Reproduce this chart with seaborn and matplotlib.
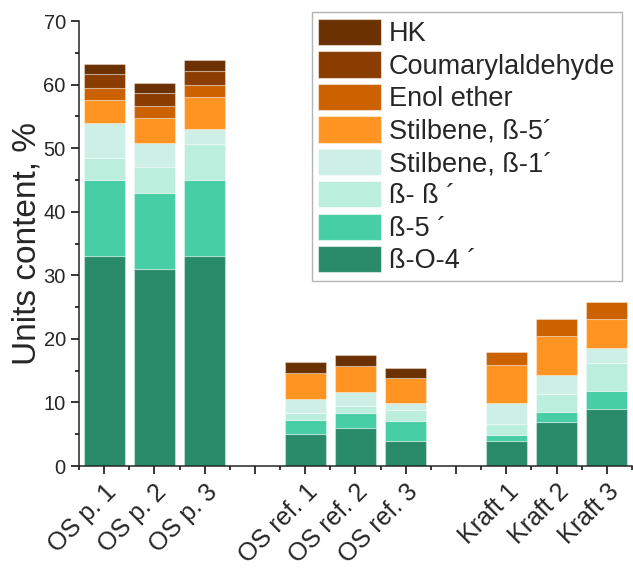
import numpy as np
import pandas as pd
import matplotlib
matplotlib.use("Agg")
import matplotlib.pyplot as plt
import matplotlib.transforms as mtransforms
from matplotlib.patches import Patch
from matplotlib.ticker import MultipleLocator
import seaborn as sns

# ---- data ----
samples = ["OS p. 1", "OS p. 2", "OS p. 3",
           "OS ref. 1", "OS ref. 2", "OS ref. 3",
           "Kraft 1", "Kraft 2", "Kraft 3"]
group_sizes = [3, 3, 3]

components = ["HK", "Coumarylaldehyde", "Enol ether", "Stilbene, ß-5´",
              "Stilbene, ß-1´", "ß- ß ´", "ß-5 ´", "ß-O-4 ´"]

bo4 = [33.0, 31.0, 33.0, 5.0, 6.0, 4.0, 4.0, 7.0, 9.0]
b5 = [12.0, 12.0, 12.0, 2.3, 2.3, 3.1, 0.9, 1.5, 2.8]
bb = [3.4, 4.1, 5.7, 1.1, 1.2, 1.7, 1.7, 2.9, 4.4]
stil_b1 = [5.6, 3.7, 2.3, 2.1, 2.1, 1.1, 3.3, 2.9, 2.4]
stil_b5 = [3.5, 3.9, 5.0, 4.1, 4.1, 3.9, 6.0, 6.2, 4.5]
enol = [2.0, 1.9, 2.0, 0.0, 0.0, 0.0, 2.0, 2.7, 2.7]
coum = [2.1, 2.0, 2.1, 0.0, 0.0, 0.0, 0.0, 0.0, 0.0]
hk = [1.6, 1.6, 1.8, 1.7, 1.7, 1.6, 0.0, 0.0, 0.0]

values = {
    "HK": hk, "Coumarylaldehyde": coum, "Enol ether": enol,
    "Stilbene, ß-5´": stil_b5, "Stilbene, ß-1´": stil_b1,
    "ß- ß ´": bb, "ß-5 ´": b5, "ß-O-4 ´": bo4,
}

colors = {
    "HK": "#6B3100", "Coumarylaldehyde": "#8B3D00", "Enol ether": "#CC6100",
    "Stilbene, ß-5´": "#FF9422", "Stilbene, ß-1´": "#CDEFE6",
    "ß- ß ´": "#BCEEDD", "ß-5 ´": "#48CEA5", "ß-O-4 ´": "#2A8B6B",
}

# positions with a gap slot between groups
positions = []
p = 0
for g in group_sizes:
    for _ in range(g):
        positions.append(p)
        p += 1
    p += 1
n_slots = positions[-1] + 1

rows = []
for comp in components:
    for pos, v in zip(positions, values[comp]):
        rows.append({"pos": pos, "comp": comp, "val": v})
df = pd.DataFrame(rows)

sns.set_style("ticks")
plt.rcParams["font.family"] = ["Liberation Sans", "DejaVu Sans"]
plt.rcParams["axes.linewidth"] = 1.1

fig = plt.figure(figsize=(6.33, 5.73), dpi=100)
ax = fig.add_axes([0.1248, 0.1867, 0.9984 - 0.1248, 0.9633 - 0.1867])

sns.histplot(data=df, x="pos", weights="val", hue="comp", hue_order=components,
             multiple="stack", discrete=True, shrink=0.82, palette=colors,
             alpha=1, edgecolor=(1, 1, 1, 0.35), linewidth=0.8,
             legend=False, ax=ax)

for patch in ax.patches:
    if patch.get_height() == 0:
        patch.set_linewidth(0)

ax.set_xlim(-0.5, n_slots - 0.5)
ax.set_ylim(0, 70)

labels_by_pos = {pos: s for pos, s in zip(positions, samples)}
ticks = list(range(n_slots))
ax.set_xticks(ticks)
ax.set_xticklabels([labels_by_pos.get(t, "") for t in ticks], rotation=45,
                   ha="right", va="top", rotation_mode="anchor", fontsize=18)
ax.set_xticks(np.arange(-0.5, n_slots, 1.0), minor=True)
offset = mtransforms.ScaledTranslation(7 / 72, -9 / 72, fig.dpi_scale_trans)
for lbl in ax.get_xticklabels():
    lbl.set_transform(lbl.get_transform() + offset)

ax.yaxis.set_major_locator(MultipleLocator(10))
ax.yaxis.set_minor_locator(MultipleLocator(5))
ax.tick_params(axis="both", which="major", direction="out", length=6, width=1.1,
               color="black")
ax.tick_params(axis="both", which="minor", direction="out", length=3, width=1.1,
               color="black")
ax.tick_params(axis="y", labelsize=14.5)
ax.tick_params(axis="x", pad=4)

ax.set_xlabel("")
ax.set_ylabel("Units content, %", fontsize=24, labelpad=1)
sns.despine(ax=ax)

handles = [Patch(facecolor=colors[c], edgecolor=(1, 1, 1, 0.5), linewidth=0.8,
                 label=c) for c in components]
leg = ax.legend(handles=handles, loc="upper right", bbox_to_anchor=(0.982, 1.02),
                borderaxespad=0, fontsize=19.5, frameon=True, fancybox=False,
                edgecolor="#A0A0A0", handlelength=2.3, handleheight=1.12,
                labelspacing=0.15, handletextpad=0.3, borderpad=0.25)
leg.get_frame().set_linewidth(1.0)

fig.savefig("out.png", dpi=100)
